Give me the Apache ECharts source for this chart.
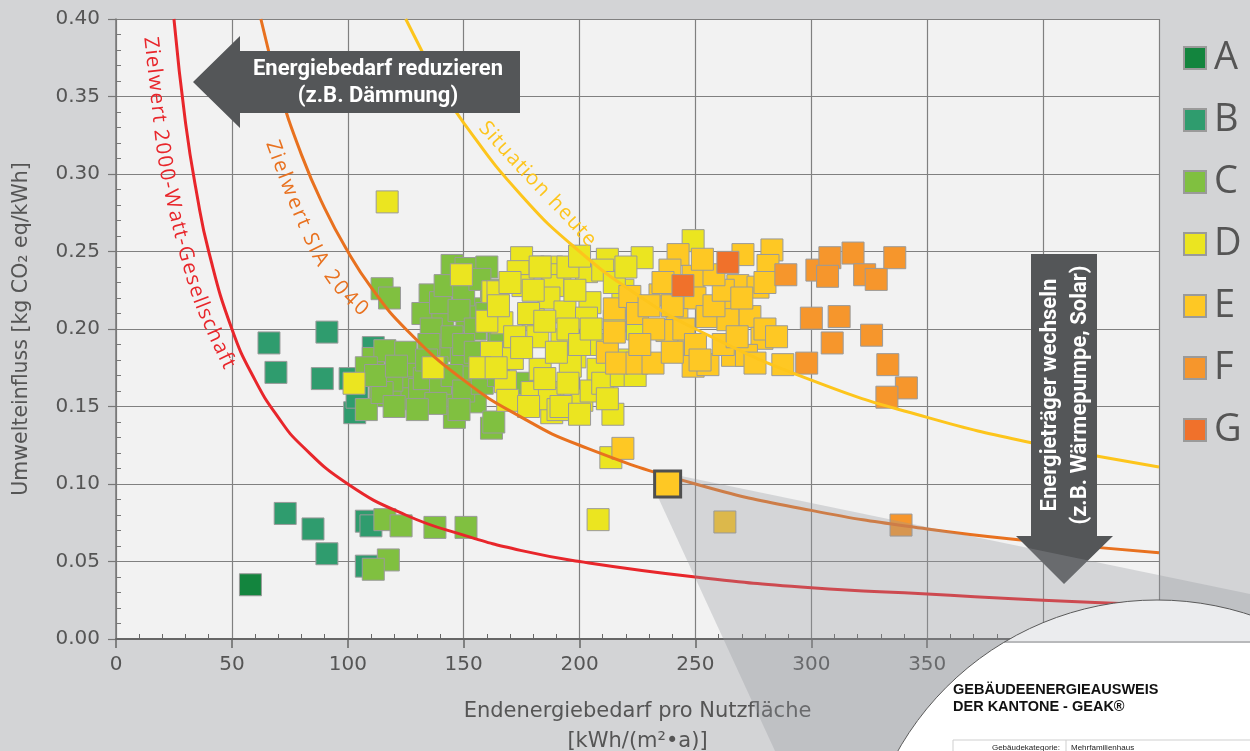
<!DOCTYPE html>
<html>
<head>
<meta charset="utf-8">
<title>GEAK Umwelteinfluss</title>
<script src="https://cdn.jsdelivr.net/npm/echarts@6/dist/echarts.min.js"></script>
<style>
    html, body { margin: 0; padding: 0; background: #d3d4d6; }
    #chart { width: 1250px; height: 751px; }
</style>
</head>
<body>
<div id="chart"></div>
<script>
'use strict';

// axis ticks
var xTicks = [0, 50, 100, 150, 200, 250, 300, 350, 400, 450];
var yTicks = [0, 0.05, 0.10, 0.15, 0.20, 0.25, 0.30, 0.35, 0.40];

// GEAK classes, [Endenergiebedarf, Umwelteinfluss]
var classA = [[58, 0.035]];
var classB = [[66, 0.191], [69, 0.172], [91, 0.198], [89, 0.168], [73, 0.081], [85, 0.071], [91, 0.055],
    [103, 0.146], [104, 0.156], [111, 0.188], [108, 0.076], [110, 0.073], [108, 0.047], [101, 0.168]];
var classC = [[114.8, 0.226], [118, 0.220], [145, 0.241], [151, 0.239], [135.5, 0.222], [132.4, 0.210],
    [141, 0.206], [151.4, 0.206], [155, 0.213], [140, 0.217], [160, 0.24], [142, 0.228], [150, 0.222],
    [148, 0.212], [136, 0.2], [162, 0.225], [157, 0.232], [180, 0.24], [155, 0.2], [160, 0.21],
    [111, 0.181], [122.5, 0.180], [127.7, 0.172], [140, 0.186], [149, 0.182], [114, 0.157], [124, 0.162],
    [108, 0.148], [127.7, 0.155], [142, 0.155], [154, 0.169], [155, 0.153], [146, 0.143], [162, 0.136],
    [138.5, 0.175], [131, 0.161], [116, 0.186], [108, 0.175], [119, 0.167], [114.8, 0.159],
    [135, 0.19], [145, 0.195], [150, 0.19], [160, 0.18], [165, 0.195], [112, 0.17], [125, 0.185],
    [133, 0.168], [140, 0.165], [145, 0.17], [150, 0.16], [158, 0.165], [138, 0.152], [130, 0.148],
    [120, 0.15], [148, 0.148], [155, 0.185], [165, 0.17], [121, 0.176], [134, 0.18], [176, 0.165],
    [166, 0.195], [163, 0.14],
    [116, 0.077], [123, 0.073], [137.6, 0.072], [151, 0.072], [117.5, 0.051], [111, 0.045]];
var classD = [[117, 0.282], [102.7, 0.165], [136.8, 0.175], [149, 0.235], [162.6, 0.224],
    [175, 0.246], [173.5, 0.237], [175.6, 0.228], [164.8, 0.224], [188, 0.240], [191.5, 0.235],
    [188.5, 0.228], [186.8, 0.220], [203, 0.237], [212, 0.245], [210, 0.238], [227, 0.246], [249, 0.257],
    [204.5, 0.217], [193.7, 0.211], [180, 0.206], [166.5, 0.204], [218.7, 0.225], [192.4, 0.193],
    [198, 0.182], [183, 0.174], [171, 0.181], [168, 0.166], [179.5, 0.159], [188.5, 0.159], [201, 0.154],
    [169, 0.154], [188, 0.146], [214.4, 0.145], [208.8, 0.190], [203, 0.207], [196, 0.176], [208, 0.174],
    [187, 0.155], [190.7, 0.148],
    [170, 0.23], [178, 0.21], [182, 0.195], [185, 0.205], [190, 0.185], [195, 0.2], [200, 0.19],
    [205, 0.2], [215, 0.23], [220, 0.24], [198, 0.225], [180, 0.225], [172, 0.195], [185, 0.168],
    [195, 0.165], [205, 0.16], [210, 0.165], [218, 0.17], [178, 0.15], [192, 0.15], [200, 0.145],
    [175, 0.188], [162, 0.185], [160, 0.205], [165, 0.215], [195, 0.24], [183, 0.24], [200, 0.247],
    [218, 0.18], [157, 0.175], [164, 0.175], [225, 0.2], [222, 0.215], [215, 0.205], [212, 0.155],
    [224, 0.17], [208, 0.077], [213.5, 0.117]];
var classE = [[215, 0.213], [221.7, 0.221], [212, 0.185], [216, 0.178], [224.8, 0.178], [215, 0.198],
    [242.5, 0.248], [270.5, 0.248], [283, 0.251], [281.3, 0.241], [239, 0.238], [249, 0.234],
    [268.3, 0.228], [277, 0.227], [264, 0.215], [234.7, 0.222], [249.8, 0.220], [255, 0.208],
    [242, 0.206], [273.5, 0.208], [264, 0.206], [278.7, 0.194], [244.6, 0.188], [266, 0.183],
    [272, 0.183], [275.7, 0.178], [287.7, 0.177], [249, 0.176], [255.4, 0.177], [237.7, 0.199],
    [231.7, 0.178], [225, 0.21], [232, 0.2], [240, 0.215], [245, 0.2], [250, 0.19], [258, 0.215],
    [262, 0.225], [258, 0.235], [270, 0.22], [280, 0.2], [285, 0.195], [240, 0.185], [226, 0.19],
    [253, 0.245], [262, 0.19], [268, 0.195], [280, 0.23], [252, 0.18], [230, 0.215], [236, 0.23],
    [218.7, 0.123], [262.7, 0.0755]];
var classF = [[289, 0.235], [298, 0.178], [300, 0.207], [302.4, 0.238], [308, 0.246], [318, 0.249],
    [336, 0.246], [307, 0.234], [323, 0.235], [328, 0.232], [312, 0.208], [326, 0.196], [309, 0.191],
    [333, 0.177], [341, 0.162], [332.6, 0.156], [338.7, 0.0735]];
var classG = [[264, 0.243], [244.6, 0.228]];
var highlighted = [[238, 0.100]];

// Zielwert-Kurven
var curve2000W = [[25, 0.40], [30, 0.333], [35, 0.286], [40, 0.25], [50, 0.20], [60, 0.167], [70, 0.143],
    [80, 0.125], [100, 0.10], [125, 0.08], [150, 0.067], [175, 0.057], [200, 0.05], [250, 0.04],
    [300, 0.033], [350, 0.029], [400, 0.025], [450, 0.022]];
var curveSIA = [[62.5, 0.40], [70, 0.357], [80, 0.3125], [90, 0.278], [100, 0.25], [110, 0.227],
    [125, 0.20], [150, 0.167], [175, 0.143], [200, 0.125], [250, 0.10], [300, 0.083], [350, 0.071],
    [400, 0.0625], [450, 0.0556]];
var curveHeute = [[125, 0.40], [140, 0.357], [150, 0.333], [175, 0.286], [200, 0.25], [225, 0.222],
    [250, 0.20], [300, 0.167], [350, 0.143], [400, 0.125], [450, 0.111]];

var classNames = ['A', 'B', 'C', 'D', 'E', 'F', 'G'];
var classData = [classA, classB, classC, classD, classE, classF, classG];
var classColors = ['#13853e', '#2f9c6e', '#80c040', '#ebe520', '#fec824', '#f6962c', '#f0712b'];

var measureCtx = document.createElement('canvas').getContext('2d');

// catmull-rom through annotation points
function catmull(pts, n) {
    var out = [];
    for (var i = 0; i < pts.length - 1; i++) {
        var p0 = pts[Math.max(i - 1, 0)], p1 = pts[i], p2 = pts[i + 1], p3 = pts[Math.min(i + 2, pts.length - 1)];
        for (var k = 0; k < n; k++) {
            var t = k / n, t2 = t * t, t3 = t2 * t;
            var pt = [];
            for (var d = 0; d < 2; d++) {
                pt.push(0.5 * (2 * p1[d] + (-p0[d] + p2[d]) * t +
                    (2 * p0[d] - 5 * p1[d] + 4 * p2[d] - p3[d]) * t2 +
                    (-p0[d] + 3 * p1[d] - 3 * p2[d] + p3[d]) * t3));
            }
            out.push(pt);
        }
    }
    out.push(pts[pts.length - 1]);
    return out;
}

// lays the label's letters along a path (like the curved labels in the picture)
function textOnPath(txt, pts, font, color, z) {
    measureCtx.font = font;
    var path = catmull(pts, 20);
    var cum = [0];
    for (var i = 1; i < path.length; i++) {
        cum.push(cum[i - 1] + Math.hypot(path[i][0] - path[i - 1][0], path[i][1] - path[i - 1][1]));
    }
    var L = cum[cum.length - 1];
    var W = measureCtx.measureText(txt).width;
    var scale = L / W;
    var els = [];
    var s = 0;
    for (var c = 0; c < txt.length; c++) {
        var ch = txt[c];
        var w = measureCtx.measureText(ch).width;
        var m = (s + w / 2) * scale;
        var j = 0;
        while (j < cum.length - 2 && cum[j + 1] < m) j++;
        var seg = cum[j + 1] - cum[j] || 1;
        var f = (m - cum[j]) / seg;
        var x = path[j][0] + (path[j + 1][0] - path[j][0]) * f;
        var y = path[j][1] + (path[j + 1][1] - path[j][1]) * f;
        var ang = Math.atan2(path[j + 1][1] - path[j][1], path[j + 1][0] - path[j][0]);
        s += w;
        if (ch === ' ') continue;
        els.push({
            type: 'text', x: x, y: y, rotation: -ang, z: z, silent: true,
            style: { text: ch, font: font, fill: color, align: 'center', verticalAlign: 'middle' }
        });
    }
    return els;
}

// magnifier circle with the GEAK document
var lens = { cx: 1157, cy: 898, r: 298, pageTop: 642 };
function pagePoints() {
    var a1 = Math.asin((lens.pageTop - lens.cy) / lens.r);
    var a2 = Math.PI - a1;
    var pts = [];
    for (var i = 0; i <= 120; i++) {
        var a = a1 + (a2 - a1) * i / 120;
        pts.push([lens.cx + lens.r * Math.cos(a), lens.cy + lens.r * Math.sin(a)]);
    }
    return pts;
}

var graphics = [];
graphics = graphics.concat(textOnPath('Zielwert 2000-Watt-Gesellschaft',
    [[150, 36], [157, 100], [164, 160], [178, 225], [196, 290], [212, 330], [230, 368]],
    '20.5px "Open Sans"', '#e8262b', 6));
graphics = graphics.concat(textOnPath('Zielwert SIA 2040',
    [[271, 140], [285, 178], [300, 215], [318, 255], [340, 288], [366, 313]],
    '20.5px "Open Sans"', '#e8711f', 6));
graphics = graphics.concat(textOnPath('Situation heute',
    [[482, 124], [510, 155], [538, 185], [565, 213], [593, 244]],
    '20.5px "Open Sans"', '#fdc51c', 6));

graphics.push({
    type: 'polygon', z: 8, silent: true,
    shape: { points: [[193, 82], [240, 36], [240, 51], [520, 51], [520, 113], [240, 113], [240, 128]] },
    style: { fill: '#545658' }
});
graphics.push({
    type: 'text', x: 378, y: 83, z: 9, silent: true,
    style: { text: 'Energiebedarf reduzieren\n(z.B. Dämmung)', font: 'bold 22px Roboto', fill: '#fff',
        align: 'center', verticalAlign: 'middle', lineHeight: 27 }
});
graphics.push({
    type: 'polygon', z: 8, silent: true,
    shape: { points: [[1031, 254], [1097, 254], [1097, 536], [1113, 536], [1064, 584], [1016, 536], [1031, 536]] },
    style: { fill: '#545658' }
});
graphics.push({
    type: 'text', x: 1065, y: 395, z: 9, rotation: Math.PI / 2, silent: true,
    style: { text: 'Energieträger wechseln\n(z.B. Wärmepumpe, Solar)', font: 'bold 22px Roboto', fill: '#fff',
        align: 'center', verticalAlign: 'middle', lineHeight: 30 }
});
// grey "zoom" beam from the highlighted building to the document
graphics.push({
    type: 'polygon', z: 50, silent: true,
    shape: { points: [[657, 495], [681, 476], [1250, 594], [1250, 751], [775, 751]] },
    style: { fill: 'rgba(150,152,158,0.32)' }
});
graphics.push({
    type: 'circle', z: 70, silent: true,
    shape: { cx: lens.cx, cy: lens.cy, r: lens.r },
    style: { fill: '#ebecee', stroke: 'none' }
});
graphics.push({
    type: 'polygon', z: 71, silent: true,
    shape: { points: pagePoints() },
    style: { fill: '#ffffff' }
});
graphics.push({
    type: 'line', z: 72, silent: true,
    shape: { x1: 1004, y1: lens.pageTop, x2: 1310, y2: lens.pageTop },
    style: { stroke: '#b8b9bb', lineWidth: 2 }
});
graphics.push({
    type: 'circle', z: 75, silent: true,
    shape: { cx: lens.cx, cy: lens.cy, r: lens.r },
    style: { fill: 'none', stroke: '#5a5a5a', lineWidth: 1 }
});
graphics.push({
    type: 'text', x: 953, y: 698, z: 73, silent: true,
    style: { text: 'GEBÄUDEENERGIEAUSWEIS\nDER KANTONE - GEAK®', font: 'bold 14.5px "Liberation Sans"',
        fill: '#111', align: 'left', verticalAlign: 'middle', lineHeight: 17 }
});
graphics.push({
    type: 'rect', z: 72, silent: true,
    shape: { x: 953, y: 740, width: 400, height: 30 },
    style: { fill: 'none', stroke: '#cfcfcf', lineWidth: 1 }
});
graphics.push({
    type: 'line', z: 72, silent: true,
    shape: { x1: 1066, y1: 740, x2: 1066, y2: 751 },
    style: { stroke: '#cfcfcf', lineWidth: 1 }
});
graphics.push({
    type: 'text', x: 1060, y: 748, z: 73, silent: true,
    style: { text: 'Gebäudekategorie:', font: '8px "Liberation Sans"', fill: '#222', align: 'right', verticalAlign: 'middle' }
});
graphics.push({
    type: 'text', x: 1071, y: 748, z: 73, silent: true,
    style: { text: 'Mehrfamilienhaus', font: '8px "Liberation Sans"', fill: '#222', align: 'left', verticalAlign: 'middle' }
});

var series = classNames.map(function (n, i) {
    return {
        name: n,
        type: 'scatter',
        data: classData[i],
        symbol: 'rect',
        symbolSize: 22,
        itemStyle: { color: classColors[i], borderColor: '#9a9a9a', borderWidth: 1, opacity: 1 },
        emphasis: { disabled: true },
        z: 2
    };
});
[[curve2000W, '#e8262b'], [curveSIA, '#e8711f'], [curveHeute, '#fdc51c']].forEach(function (c) {
    series.push({
        type: 'line',
        data: c[0],
        smooth: true,
        symbol: 'none',
        silent: true,
        lineStyle: { color: c[1], width: 3 },
        z: 5
    });
});
series.push({
    type: 'scatter',
    data: highlighted,
    symbol: 'rect',
    symbolSize: 26,
    itemStyle: { color: '#fec824', borderColor: '#4f4f4f', borderWidth: 3, opacity: 1 },
    emphasis: { disabled: true },
    z: 60
});

var axisFont = 'DejaVu Sans';
var options = {
    backgroundColor: '#d3d4d6',
    animation: false,
    grid: {
        left: 116, right: 91, top: 19, bottom: 112,
        show: true, backgroundColor: '#f2f2f2', borderWidth: 0,
        outerBoundsMode: 'none'
    },
    legend: {
        data: classNames,
        orient: 'vertical',
        left: 1183,
        top: 39,
        padding: 0,
        itemWidth: 22,
        itemHeight: 22,
        itemGap: 24,
        icon: 'rect',
        selectedMode: false,
        itemStyle: { opacity: 1 },
        textStyle: { fontSize: 38, lineHeight: 22, color: '#555', fontFamily: 'Open Sans', padding: [0, 0, 0, 3] }
    },
    xAxis: [{
        type: 'value',
        min: xTicks[0],
        max: xTicks[xTicks.length - 1],
        interval: 50,
        name: 'Endenergiebedarf pro Nutzfläche\n[kWh/(m²•a)]',
        nameLocation: 'middle',
        nameGap: 58,
        nameTextStyle: { fontSize: 21, color: '#555', fontFamily: axisFont, lineHeight: 30 },
        axisLine: { lineStyle: { color: '#666', width: 2 } },
        axisTick: { show: true, inside: false, length: 9, lineStyle: { color: '#666', width: 1.5 } },
        axisLabel: { fontSize: 20, color: '#555', fontFamily: axisFont, margin: 16 },
        splitLine: { lineStyle: { color: '#808080', width: 1.2 } }
    }, {
        type: 'value',
        min: xTicks[0],
        max: xTicks[xTicks.length - 1],
        interval: 50,
        position: 'bottom',
        axisLine: { show: false },
        axisTick: { show: false, inside: true },
        axisLabel: { show: false },
        splitLine: { show: false },
        minorTick: { show: true, splitNumber: 5, length: 5, lineStyle: { color: '#666', width: 1 } }
    }],
    yAxis: [{
        type: 'value',
        min: yTicks[0],
        max: yTicks[yTicks.length - 1],
        interval: 0.05,
        name: 'Umwelteinfluss [kg CO₂ eq/kWh]',
        nameLocation: 'middle',
        nameGap: 84,
        nameTextStyle: { fontSize: 20.5, color: '#555', fontFamily: axisFont },
        axisLine: { show: true, lineStyle: { color: '#777', width: 1.5 } },
        axisTick: { show: true, inside: false, length: 8, lineStyle: { color: '#777', width: 1.2 } },
        axisLabel: {
            fontSize: 20, color: '#555', fontFamily: axisFont, margin: 16,
            formatter: function (v) { return v.toFixed(2); }
        },
        splitLine: { lineStyle: { color: '#808080', width: 1.2 } }
    }, {
        type: 'value',
        min: yTicks[0],
        max: yTicks[yTicks.length - 1],
        interval: 0.05,
        position: 'left',
        axisLine: { show: false },
        axisTick: { show: false, inside: true },
        axisLabel: { show: false },
        splitLine: { show: false },
        minorTick: { show: true, splitNumber: 5, length: 5, lineStyle: { color: '#777', width: 1 } }
    }],
    graphic: { elements: graphics },
    series: series
};

var myChart = echarts.init(document.getElementById('chart'));
myChart.setOption(options);
</script>
</body>
</html>
